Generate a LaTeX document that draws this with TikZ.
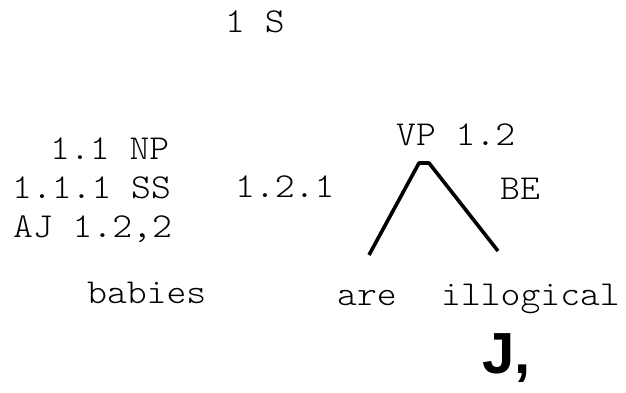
\documentclass[tikz,border=0pt]{standalone}
\usepackage{fontspec}
\setmonofont[FakeStretch=1.08]{Latin Modern Mono Light}
\newfontfamily\markfont{Liberation Sans}

\begin{document}
\begin{tikzpicture}[x=1pt, y=-1pt,
    lbl/.style={anchor=base west, inner sep=0pt, font=\fontsize{35}{35}\selectfont\ttfamily},
    branch/.style={line width=3.6pt, line cap=butt, line join=round}]
      \useasboundingbox (0,0) rectangle (626,393);

      % --- root ---
      \node[lbl] (s) at (225,33) {1 S};

      % --- left column: NP block ---
      \node[lbl] (np) at (50,159) {1.1 NP};
      \node[lbl] (ss) at (12,198) {1.1.1 SS};
      \node[lbl] (aj) at (13,237) {AJ 1.2,2};

      % --- VP with its relation labels ---
      \node[lbl] (vp)  at (396,146) {VP 1.2};
      \node[lbl] (rel) at (235,197) {1.2.1};
      \node[lbl] (be)  at (500,199) {BE};

      % --- branch ends under VP ---
      \coordinate (apexL) at (419,163);
      \coordinate (apexR) at (429,163);
      \coordinate (legL)  at (369,255);
      \coordinate (legR)  at (498,251);
      \draw[branch] (legL) -- (apexL) -- (apexR) -- (legR);

      % --- words ---
      \node[lbl] (babies)    at (87,303)  {babies};
      \node[lbl] (are)       at (337,305) {are};
      \node[lbl] (illogical) at (441,305) {illogical};

      % --- mark under the adjective ---
      \node[anchor=base west, inner sep=0pt, font=\fontsize{58}{58}\selectfont\markfont\bfseries] (mark) at (482,373) {J,};
    \end{tikzpicture}
\end{document}
